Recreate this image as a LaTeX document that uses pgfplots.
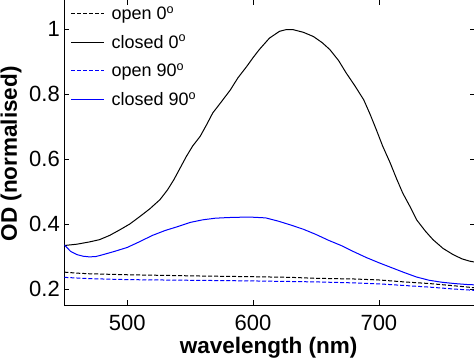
\documentclass[border=0pt]{standalone}
\usepackage{pgfplots}
\pgfplotsset{compat=1.18}
\usepackage{fontspec}
\setmainfont{Liberation Sans}
\definecolor{mblue}{RGB}{0,0,255}
\begin{document}
\begin{tikzpicture}[x=1pt,y=1pt]
\useasboundingbox (0,0) rectangle (474,357);
\clip (0,0) rectangle (474,357);
\begin{axis}[
  at={(64.3pt,51.7pt)}, anchor=south west,
  scale only axis, width=410.2pt, height=305.5pt,
  xmin=450, xmax=776, ymin=0.15, ymax=1.09,
  axis line style={black, line width=0.8pt},
  tick style={black, line width=0.6pt},
  major tick length=5pt, tick align=inside,
  xtick={500,600,700}, xticklabels={500,600,700},
  ytick={0.2,0.4,0.6,0.8,1}, yticklabels={0.2,0.4,0.6,0.8,1},
  xticklabel style={anchor=base, inner sep=0pt, yshift=-25.4pt, font=\fontsize{22}{24}\selectfont},
  yticklabel style={anchor=east, inner sep=0pt, xshift=-4.3pt, font=\fontsize{22}{24}\selectfont},
  xlabel={\bfseries wavelength (nm)},
  ylabel={\bfseries OD (normalised)},
  xlabel style={at={(axis description cs:0.498,-0.158)}, anchor=base, font=\fontsize{22.5}{24}\selectfont},
  ylabel style={at={(axis description cs:-0.1154,0.496)}, anchor=base, rotate=0, font=\fontsize{22.5}{24}\selectfont},
  legend style={at={(axis description cs:0.015,0.985)}, anchor=north west, draw=none, fill=none,
    font=\fontsize{18}{20}\selectfont, inner sep=0pt, row sep=10pt, column sep=5pt},
  legend cell align=left,
  legend image code/.code={\draw[#1] (0pt,0pt) -- (33pt,0pt);},
]
\addplot[draw=black, line width=1pt, dash pattern=on 4pt off 2pt] coordinates {
(450,0.252) (460,0.249) (470,0.247) (480,0.246) (500,0.244) (530,0.242) (560,0.240) (600,0.238)
(630,0.236) (650,0.233) (680,0.231) (700,0.228) (720,0.222) (740,0.217) (760,0.210) (776,0.204)};
\addlegendentry{open 0\textsuperscript{o}}
\addplot[draw=black, line width=1pt] coordinates {
(450,0.334) (460,0.338) (470,0.345) (478,0.352) (486,0.365) (494,0.382) (502,0.400) (510,0.423)
(518,0.447) (526,0.475) (532,0.505) (537,0.536) (542,0.572) (547,0.608) (552,0.640) (558,0.670)
(563,0.705) (568,0.742) (575,0.777) (582,0.813) (588,0.850) (595,0.885) (600,0.912) (605,0.937)
(613,0.972) (621,0.993) (626,0.998) (632,0.998) (640,0.990) (648,0.977) (655,0.958) (661,0.937)
(668,0.903) (674,0.865) (681,0.825) (688,0.782) (693,0.738) (698,0.690) (703,0.640) (709,0.588)
(714,0.540) (719,0.495) (725,0.452) (730,0.413) (737,0.378) (743,0.352) (751,0.325) (759,0.306)
(766,0.293) (772,0.286) (776,0.283)};
\addlegendentry{closed 0\textsuperscript{o}}
\addplot[draw=mblue, line width=1pt, dash pattern=on 4pt off 2pt] coordinates {
(450,0.236) (470,0.232) (500,0.229) (550,0.227) (600,0.225) (650,0.222) (680,0.219) (700,0.216)
(720,0.211) (740,0.206) (760,0.200) (776,0.196)};
\addlegendentry{open 90\textsuperscript{o}}
\addplot[draw=mblue, line width=1pt] coordinates {
(450,0.336) (455,0.316) (460,0.306) (465,0.301) (470,0.299) (475,0.300) (480,0.305) (490,0.316)
(500,0.328) (510,0.346) (520,0.365) (530,0.380) (540,0.392) (550,0.405) (560,0.413) (570,0.418)
(580,0.420) (590,0.421) (600,0.421) (610,0.419) (620,0.409) (630,0.397) (640,0.384) (650,0.368)
(660,0.350) (670,0.334) (680,0.315) (690,0.297) (700,0.281) (710,0.266) (720,0.251) (730,0.237)
(740,0.227) (750,0.221) (760,0.217) (770,0.214) (776,0.213)};
\addlegendentry{closed 90\textsuperscript{o}}
\end{axis}
\end{tikzpicture}
\end{document}
